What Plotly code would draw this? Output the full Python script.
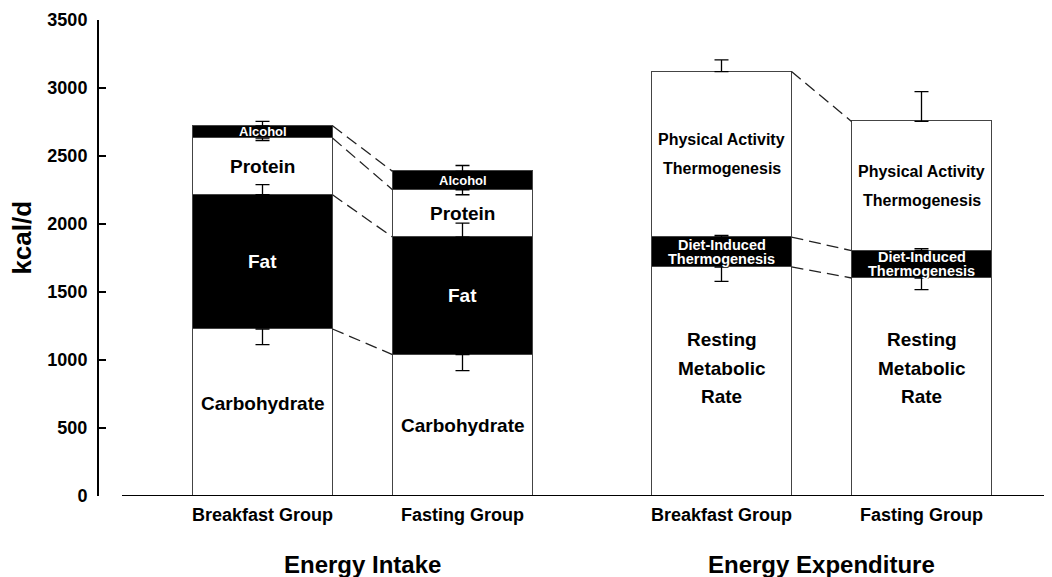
import numpy as np
import plotly.graph_objects as go

# ---------------- data (kcal/d) ----------------
group_labels = ["Breakfast Group", "Fasting Group", "Breakfast Group", "Fasting Group"]
panel_titles = ["Energy Intake", "Energy Expenditure"]

intake_segments = ["Carbohydrate", "Fat", "Protein", "Alcohol"]
intake_breakfast = [1228, 987, 417, 90]
intake_fasting = [1040, 864, 348, 135]
# signed SE: + drawn upward from segment top, - drawn downward
intake_err_breakfast = [-115, 75, -18, 32]
intake_err_fasting = [-118, 103, -37, 43]

expend_segments = ["Resting Metabolic Rate", "Diet-Induced Thermogenesis", "Physical Activity Thermogenesis"]
expend_breakfast = [1684, 220, 1217]
expend_fasting = [1603, 201, 950]
expend_err_breakfast = [-106, 12, 86]
expend_err_fasting = [-86, 14, 220]

y_ticks = [0, 500, 1000, 1500, 2000, 2500, 3000, 3500]

# ---------------- layout / style ----------------
x_pos = [0.0, 1.0, 2.295, 3.295]
bar_w = 0.7
FONT = "Liberation Sans, Arial, sans-serif"

intake_fill = ["white", "black", "white", "black"]
expend_fill = ["white", "black", "white"]
intake_lines = [["Carbohydrate"], ["Fat"], ["Protein"], ["Alcohol"]]
intake_fs = [19, 19, 19, 13]
intake_gap = [0, 0, 0, 0]
intake_extra_shift = {(0, 0): 9}
expend_lines = [["Resting", "Metabolic", "Rate"], ["Diet-Induced", "Thermogenesis"],
                ["Physical Activity", "Thermogenesis"]]
expend_fs = [19, 14.5, 16]
expend_gap = [28.5, 14, 29]
rmr_label_level = 940

fig = go.Figure()
annotations = []
shapes = []


def add_panel(xs, values_list, errs_list, names, fills, lines, fss, gaps,
              fixed_center=None, extra_shift=None):
    vals = np.array(values_list, dtype=float)          # shape (2 groups, n segs)
    tops = np.cumsum(vals, axis=1)
    bottoms = tops - vals
    for j, name in enumerate(names):
        fig.add_trace(go.Bar(
            x=xs, y=vals[:, j], width=bar_w, name=name,
            marker=dict(color=fills[j], line=dict(color="#444444", width=1.3)),
            showlegend=False, hoverinfo="y+name"))
    errs = np.array(errs_list, dtype=float)
    for j in range(len(names)):
        e = errs[:, j]
        fig.add_trace(go.Scatter(
            x=xs, y=tops[:, j], mode="markers",
            marker=dict(size=1, color="rgba(0,0,0,0)"),
            error_y=dict(type="data", symmetric=False,
                         array=np.clip(e, 0, None), arrayminus=np.clip(-e, 0, None),
                         color="black", thickness=1.3, width=7),
            showlegend=False, hoverinfo="skip"))
    # dashed connectors between the two groups at each boundary
    for j in range(len(names)):
        shapes.append(dict(type="line", xref="x", yref="y",
                           x0=xs[0] + bar_w / 2, y0=tops[0, j],
                           x1=xs[1] - bar_w / 2, y1=tops[1, j],
                           line=dict(color="#222", width=1.3, dash="12px,6px"),
                           layer="above"))
    # segment labels
    for g in range(2):
        for j in range(len(names)):
            center = (tops[g, j] + bottoms[g, j]) / 2
            if fixed_center is not None and j in fixed_center:
                center = fixed_center[j]
            extra = (extra_shift or {}).get((g, j), 0)
            txt_col = "white" if fills[j] == "black" else "black"
            n = len(lines[j])
            for k, line in enumerate(lines[j]):
                shift = ((n - 1) / 2 - k) * gaps[j] + extra
                annotations.append(dict(
                    x=xs[g], y=center, xref="x", yref="y", text=line, showarrow=False,
                    yshift=shift, xanchor="center", yanchor="middle",
                    font=dict(family=FONT, size=fss[j], color=txt_col, weight="bold")))


add_panel(x_pos[:2], [intake_breakfast, intake_fasting],
          [intake_err_breakfast, intake_err_fasting],
          intake_segments, intake_fill, intake_lines, intake_fs, intake_gap,
          extra_shift=intake_extra_shift)
add_panel(x_pos[2:], [expend_breakfast, expend_fasting],
          [expend_err_breakfast, expend_err_fasting],
          expend_segments, expend_fill, expend_lines, expend_fs, expend_gap,
          fixed_center={0: rmr_label_level})

# the page body adds an 8px offset; compensate so the plot area sits where the original is
PAGE_OFF = 8
plot_l, plot_w, plot_h = 99 - PAGE_OFF, 953, 476
fig_w, fig_h = 1052 - PAGE_OFF, 577 - PAGE_OFF

# x axis baseline (separate from y axis, as in the original)
shapes.append(dict(type="line", xref="paper", yref="y",
                   x0=23 / plot_w, x1=1, y0=0, y1=0,
                   line=dict(color="black", width=2), layer="above"))

# y axis title
annotations.append(dict(x=-77 / plot_w, xref="paper", y=1900, yref="y",
                        text="kcal/d", textangle=-90, showarrow=False,
                        xanchor="center", yanchor="middle",
                        font=dict(family=FONT, size=26, color="black", weight="bold")))
# panel titles
for i, t in enumerate(panel_titles):
    annotations.append(dict(x=(x_pos[2 * i] + x_pos[2 * i + 1]) / 2, xref="x",
                            y=-68 / plot_h, yref="paper", text=t, showarrow=False,
                            xanchor="center", yanchor="middle",
                            font=dict(family=FONT, size=24, color="black", weight="bold")))

x0 = x_pos[0] - (262.5 - 99) / 200
fig.update_layout(
    width=fig_w, height=fig_h,
    margin=dict(l=plot_l, r=0, t=20 - PAGE_OFF, b=fig_h - (20 - PAGE_OFF) - plot_h,
                autoexpand=False),
    paper_bgcolor="white", plot_bgcolor="white",
    barmode="stack", bargap=0,
    xaxis=dict(range=[x0, x0 + plot_w / 200], tickvals=x_pos, ticktext=group_labels,
               showline=False, showgrid=False, zeroline=False, ticks="", automargin=False,
               ticklabelstandoff=6,
               tickfont=dict(family=FONT, size=18, color="black", weight="bold")),
    yaxis=dict(range=[0, 3500], tickvals=y_ticks, showline=True, linecolor="black",
               linewidth=2, ticks="inside", ticklen=7, tickwidth=2, tickcolor="black",
               showgrid=False, zeroline=False, ticklabelstandoff=6, automargin=False,
               tickfont=dict(family=FONT, size=18, color="black", weight="bold")),
    annotations=annotations, shapes=shapes, showlegend=False,
)

fig.write_html("out.html")
